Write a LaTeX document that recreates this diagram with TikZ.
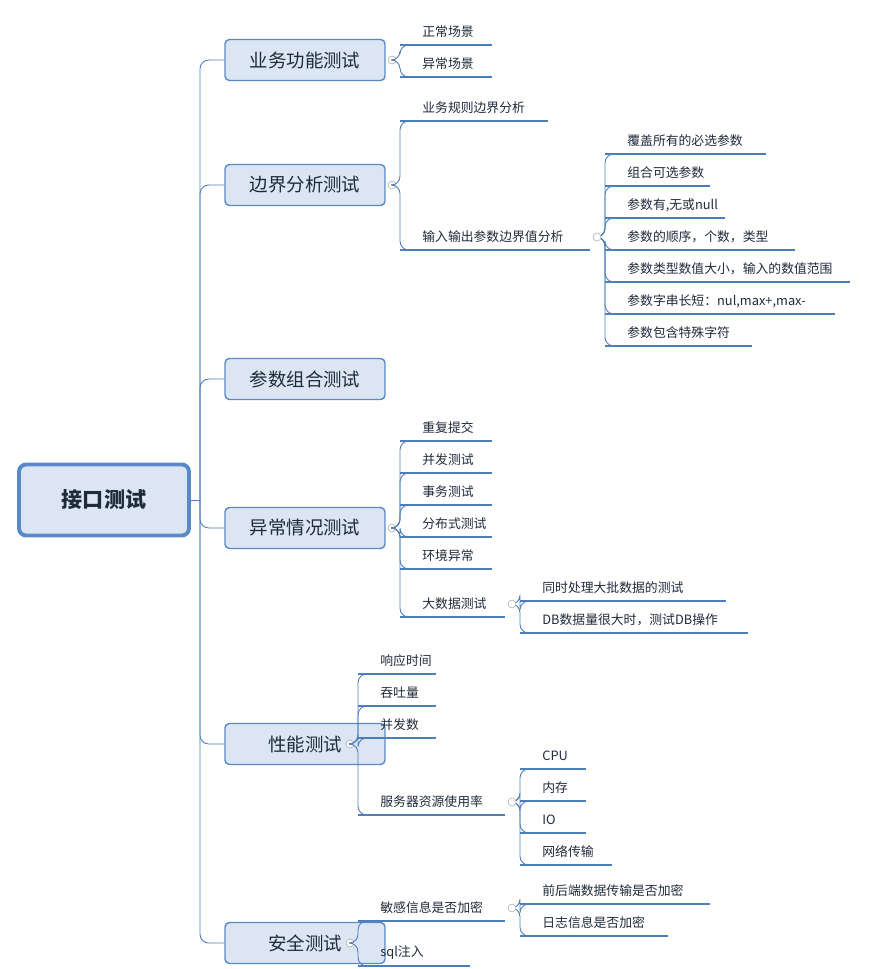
\documentclass[tikz,border=0pt]{standalone}
\usepackage{fontspec}
\setmainfont{Noto Sans CJK SC}
\definecolor{boxfill}{HTML}{DCE6F2}
\definecolor{boxline}{HTML}{5A8AC6}
\definecolor{linkc}{HTML}{4E7DB8}
\definecolor{txt}{HTML}{1F2A3A}
\begin{document}
\begin{tikzpicture}[x=0.02cm, y=-0.02cm, text=txt,
  root node/.style={draw=boxline, line width=2.2pt, fill=boxfill, rounded corners=4pt, minimum width=3.4cm, minimum height=1.42cm, font=\fontsize{12}{12}\selectfont\bfseries},
  topic node/.style={draw=boxline, line width=0.8pt, fill=boxfill, rounded corners=2.5pt, minimum width=3.2cm, minimum height=0.82cm, font=\fontsize{10.5}{12}\selectfont},
  leaf/.style={anchor=west, inner sep=0pt, font=\fontsize{7.3}{9}\selectfont},
  link/.style={draw=linkc, line width=0.5pt, rounded corners=5pt},
  under/.style={draw=linkc, line width=1.3pt},
  fold/.style={draw=gray!70, line width=0.3pt, fill=white}]
\useasboundingbox (0,0) rectangle (882,969);
\node[root node] (root) at (104,500) {接口测试};
\draw[link] (root.east) -- (200,500);
% level one
\foreach \name/\t/\y in {func/业务功能测试/60, bound/边界分析测试/185, combo/参数组合测试/379, err/异常情况测试/528, perf/性能测试/744, safe/安全测试/943}{
  \node[topic node] (\name) at (305,\y) {\t};
  \draw[link] (200,500) |- (\name.west);
}
\foreach \name/\y in {func/60, bound/185, err/528}
  \draw[fold] (392,\y) circle (4);
\foreach \name/\y in {perf/744, safe/943}
  \draw[fold] (350,\y) circle (4);
% leaves: trunk x / join y / text / line y / end x
\foreach \tx/\jy/\t/\ly/\ex [count=\i] in {
  400/60/正常场景/45/492, 400/60/异常场景/77/492,
  400/185/业务规则边界分析/121/548, 400/185/输入输出参数边界值分析/250/590,
  605/237/覆盖所有的必选参数/154/766, 605/237/组合可选参数/186/710, 605/237/{参数有,无或null}/218/725,
  605/237/参数的顺序，个数，类型/250/795, 605/237/参数类型数值大小，输入的数值范围/282/850,
  605/237/参数字串长短：nul{,}max+{,}max-/314/835, 605/237/参数包含特殊字符/346/752,
  400/528/重复提交/441/492, 400/528/并发测试/473/492, 400/528/事务测试/505/492,
  400/528/分布式测试/537/492, 400/528/环境异常/569/492, 400/528/大数据测试/617/505,
  520/604/同时处理大批数据的测试/601/726, 520/604/DB数据量很大时，测试DB操作/633/748,
  358/744/响应时间/674/436, 358/744/吞吐量/706/436, 358/744/并发数/738/436, 358/744/服务器资源使用率/815/505,
  520/802/CPU/769/586, 520/802/内存/801/586, 520/802/IO/833/586, 520/802/网络传输/865/612,
  358/943/敏感信息是否加密/921/505, 358/943/sql注入/966/470,
  520/908/前后端数据传输是否加密/904/710, 520/908/日志信息是否加密/936/668}{
  \node[leaf] (leaf\i) at (\tx+22,\ly-13) {\t};
  \draw[link] (\tx-8,\jy) -- (\tx,\jy) |- (\tx+12,\ly);
  \draw[under] (\tx,\ly) -- (\ex,\ly);
}
\foreach \x/\y in {597/237, 512/604, 512/802, 512/908}
  \draw[fold] (\x,\y) circle (4);
\end{tikzpicture}
\end{document}
